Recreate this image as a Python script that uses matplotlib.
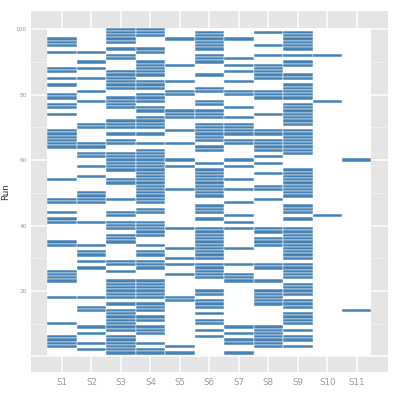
import matplotlib
matplotlib.use("Agg")
import matplotlib.pyplot as plt
from matplotlib.patches import Rectangle

samples = ["S1", "S2", "S3", "S4", "S5", "S6", "S7", "S8", "S9", "S10", "S11"]

runs_S1 = [97, 96, 95, 93, 88, 87, 85, 83, 80, 79, 77, 76, 74, 69, 68, 67, 66, 65, 64, 54,
           48, 47, 44, 42, 41, 35, 34, 26, 25, 24, 23, 18, 10, 6, 5, 4, 3]
runs_S2 = [93, 90, 88, 85, 81, 78, 71, 70, 65, 64, 62, 61, 58, 55, 50, 49, 48, 47, 41, 34,
           32, 31, 29, 27, 18, 15, 14, 9, 7, 4, 2]
runs_S3 = [100, 99, 98, 97, 96, 94, 92, 91, 87, 86, 85, 84, 83, 82, 79, 78, 77, 76, 72, 71,
           70, 68, 66, 65, 62, 61, 60, 59, 58, 57, 54, 53, 48, 44, 43, 41, 40, 39, 37, 36,
           35, 29, 28, 26, 23, 22, 21, 20, 19, 18, 16, 14, 13, 12, 11, 10, 9, 8, 6, 5,
           4, 3, 2, 1]
runs_S4 = [100, 99, 98, 94, 93, 90, 89, 88, 87, 86, 84, 83, 82, 80, 79, 78, 76, 75, 73, 72,
           71, 70, 68, 65, 63, 62, 61, 60, 59, 58, 57, 56, 55, 54, 53, 52, 51, 50, 49, 48,
           47, 45, 44, 41, 40, 39, 38, 37, 34, 32, 31, 29, 28, 27, 23, 22, 21, 20, 19, 18,
           16, 15, 14, 12, 11, 9, 8, 7, 4, 2, 1]
runs_S5 = [97, 89, 84, 81, 80, 75, 74, 73, 69, 65, 60, 58, 51, 39, 33, 30, 28, 25, 18, 17, 3, 1]
runs_S6 = [99, 98, 97, 96, 95, 94, 92, 91, 90, 86, 82, 81, 78, 77, 75, 74, 73, 71, 70, 69,
           68, 67, 66, 64, 63, 59, 57, 56, 55, 54, 53, 52, 51, 50, 49, 46, 45, 44, 42, 39,
           38, 37, 36, 35, 34, 33, 32, 31, 30, 28, 27, 26, 25, 24, 20, 19, 17, 16, 15, 13,
           11, 10, 8, 6]
runs_S7 = [97, 91, 89, 87, 84, 81, 80, 76, 73, 71, 70, 69, 68, 66, 65, 60, 58, 54, 51, 47,
           43, 41, 39, 33, 28, 25, 24, 23, 9, 7, 5, 4, 1]
runs_S8 = [99, 95, 92, 89, 88, 87, 86, 85, 81, 80, 79, 74, 69, 68, 66, 65, 64, 63, 61, 59,
           56, 52, 51, 48, 39, 38, 36, 35, 34, 28, 27, 23, 20, 19, 18, 17, 16, 9, 8, 7,
           6, 5, 4, 3]
runs_S9 = [99, 98, 97, 96, 95, 94, 92, 90, 89, 86, 85, 83, 82, 81, 80, 79, 77, 76, 75, 74,
           73, 72, 71, 69, 68, 67, 66, 65, 64, 63, 62, 57, 56, 55, 54, 53, 52, 51, 50, 49,
           46, 45, 44, 42, 39, 38, 37, 36, 35, 34, 33, 32, 31, 30, 28, 27, 26, 25, 24, 22,
           21, 20, 19, 17, 16, 15, 13, 12, 11, 10, 8, 6, 5, 3]
runs_S10 = [92, 78, 43]
runs_S11 = [60, 14]

all_runs = [runs_S1, runs_S2, runs_S3, runs_S4, runs_S5, runs_S6, runs_S7,
            runs_S8, runs_S9, runs_S10, runs_S11]

y_ticks = [20, 40, 60, 80, 100]

fig = plt.figure(figsize=(3.99, 3.99), dpi=100)
ax = fig.add_axes([31 / 399, 1 - 371.7 / 399, (387.7 - 31) / 399, (371.7 - 11) / 399])
ax.set_facecolor("#E5E5E5")

ax.set_xlim(-0.05, 12.05)
ax.set_ylim(-4.7, 105.6)

# grid
for xi in range(1, len(samples) + 1):
    ax.axvline(xi, color="white", lw=1.1, zorder=0.5)
for yv in [0, 20, 40, 60, 80, 100]:
    ax.axhline(yv, color="white", lw=1.1, zorder=0.5)
for yv in [10, 30, 50, 70, 90]:
    ax.axhline(yv, color="#F2F2F2", lw=0.6, zorder=0.5)

ax.add_patch(Rectangle((0.5, 0.5), len(samples), 100, facecolor="white",
                       edgecolor="none", zorder=1))

for i, runs in enumerate(all_runs):
    xs = [i + 1] * len(runs)
    ax.bar(xs, [1] * len(runs), bottom=[r - 0.5 for r in runs], width=1.0,
           color="#4682B4", edgecolor="#FFFFFF", linewidth=0.35, zorder=2)

ax.set_xticks(range(1, len(samples) + 1))
ax.set_xticklabels(samples, fontsize=6.2, color="#9A9A9A")
ax.set_yticks(y_ticks)
ax.set_yticklabels([str(v) for v in y_ticks], fontsize=4.2, color="#9A9A9A")
ax.tick_params(length=0, pad=3)
ax.tick_params(axis="x", pad=4.5)
for s in ax.spines.values():
    s.set_visible(False)
ax.set_ylabel("Run", fontsize=6.3, color="#333333")
ax.yaxis.set_label_coords(-0.058, 0.5)

fig.savefig("out.png", dpi=100)
